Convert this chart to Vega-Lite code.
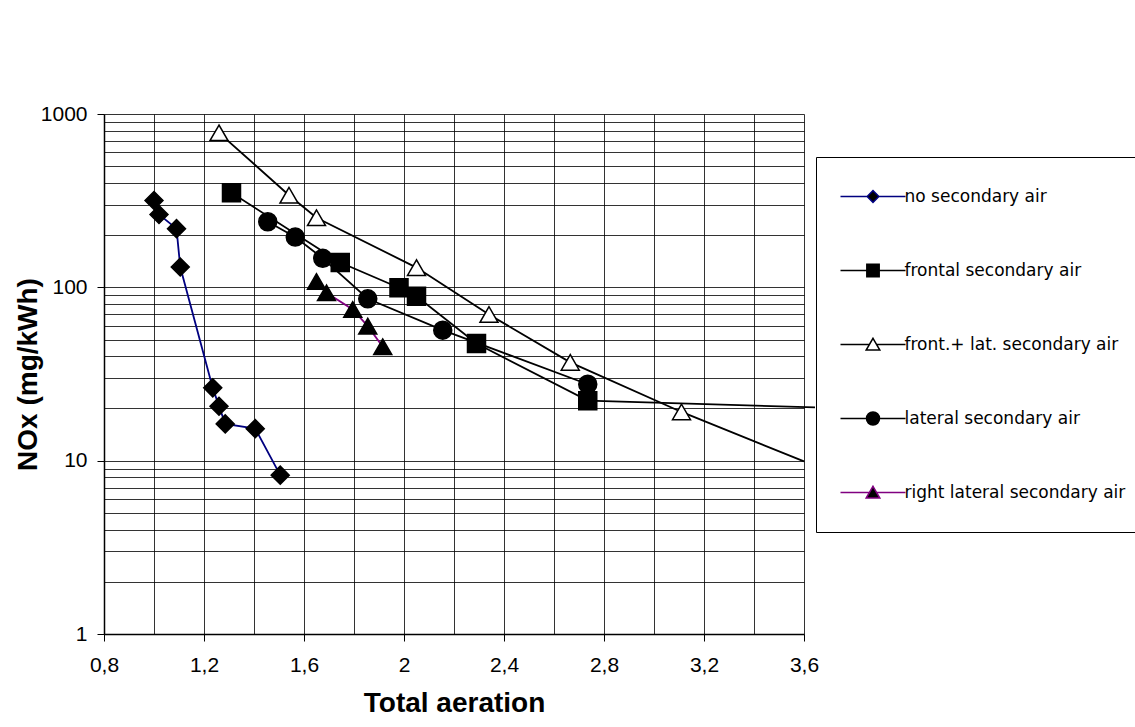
{
  "$schema": "https://vega.github.io/schema/vega-lite/v6.json",
  "width": 700,
  "height": 520,
  "autosize": {"type": "none"},
  "padding": {"left": 104, "top": 114, "right": 331, "bottom": 93},
  "background": "white",
  "config": {"view": {"stroke": null}, "font": "DejaVu Sans"},
  "data": {
    "values": [
      {"series": "no secondary air", "aeration": 1.0, "nox": 317},
      {"series": "no secondary air", "aeration": 1.02, "nox": 263},
      {"series": "no secondary air", "aeration": 1.09, "nox": 218},
      {"series": "no secondary air", "aeration": 1.105, "nox": 131},
      {"series": "no secondary air", "aeration": 1.235, "nox": 26.3},
      {"series": "no secondary air", "aeration": 1.26, "nox": 20.6},
      {"series": "no secondary air", "aeration": 1.285, "nox": 16.3},
      {"series": "no secondary air", "aeration": 1.405, "nox": 15.3},
      {"series": "no secondary air", "aeration": 1.505, "nox": 8.25},
      {"series": "frontal secondary air", "aeration": 1.31, "nox": 351},
      {"series": "frontal secondary air", "aeration": 1.745, "nox": 139},
      {"series": "frontal secondary air", "aeration": 1.98, "nox": 99.4},
      {"series": "frontal secondary air", "aeration": 2.05, "nox": 88.9},
      {"series": "frontal secondary air", "aeration": 2.29, "nox": 47.4},
      {"series": "frontal secondary air", "aeration": 2.735, "nox": 22.2},
      {"series": "frontal secondary air", "aeration": 3.644, "nox": 20.3},
      {"series": "front.+ lat. secondary air", "aeration": 1.26, "nox": 779},
      {"series": "front.+ lat. secondary air", "aeration": 1.54, "nox": 340},
      {"series": "front.+ lat. secondary air", "aeration": 1.65, "nox": 252},
      {"series": "front.+ lat. secondary air", "aeration": 2.05, "nox": 130},
      {"series": "front.+ lat. secondary air", "aeration": 2.34, "nox": 69.7},
      {"series": "front.+ lat. secondary air", "aeration": 2.665, "nox": 36.9},
      {"series": "front.+ lat. secondary air", "aeration": 3.11, "nox": 19.1},
      {"series": "front.+ lat. secondary air", "aeration": 3.6, "nox": 9.9},
      {"series": "lateral secondary air", "aeration": 1.455, "nox": 239},
      {"series": "lateral secondary air", "aeration": 1.565, "nox": 195},
      {"series": "lateral secondary air", "aeration": 1.675, "nox": 147},
      {"series": "lateral secondary air", "aeration": 1.855, "nox": 85.9},
      {"series": "lateral secondary air", "aeration": 2.155, "nox": 56.6},
      {"series": "lateral secondary air", "aeration": 2.735, "nox": 27.6},
      {"series": "right lateral  secondary air", "aeration": 1.65, "nox": 108},
      {"series": "right lateral  secondary air", "aeration": 1.69, "nox": 93},
      {"series": "right lateral  secondary air", "aeration": 1.795, "nox": 74.5},
      {"series": "right lateral  secondary air", "aeration": 1.855, "nox": 59.7},
      {"series": "right lateral  secondary air", "aeration": 1.915, "nox": 45.4}
    ]
  },
  "layer": [
    {
      "mark": {"type": "line", "strokeWidth": 1.8},
      "encoding": {
        "x": {
          "field": "aeration", "type": "quantitative",
          "scale": {"domain": [0.8, 3.6], "nice": false, "zero": false},
          "axis": {
            "values": [0.8, 1, 1.2, 1.4, 1.6, 1.8, 2, 2.2, 2.4, 2.6, 2.8, 3, 3.2, 3.4, 3.6],
            "labelExpr": "round(datum.value*10) % 4 == 0 ? replace(format(datum.value, '~g'), '.', ',') : ''",
            "title": "Total aeration",
            "titleFont": "Liberation Sans", "titleFontSize": 28, "titleFontWeight": "bold", "titleColor": "black",
            "labelFont": "Liberation Sans", "labelFontSize": 21, "labelColor": "black",
            "labelFlush": false, "labelOverlap": false, "labelPadding": 13.5,
            "tickSize": 7, "tickColor": "black", "tickWidth": 1,
            "tickOpacity": {"condition": {"test": "round(datum.value*10) % 4 == 0", "value": 1}, "value": 0},
            "domainColor": "black", "domainWidth": 1.5,
            "grid": true, "gridColor": "black", "gridOpacity": 0.8, "gridWidth": 1,
            "titlePadding": 14
          }
        },
        "y": {
          "field": "nox", "type": "quantitative",
          "scale": {"type": "log", "domain": [1, 1000], "nice": false},
          "axis": {
            "values": [1, 2, 3, 4, 5, 6, 7, 8, 9, 10, 20, 30, 40, 50, 60, 70, 80, 90, 100, 200, 300, 400, 500, 600, 700, 800, 900, 1000],
            "labelExpr": "(datum.value == 1 || datum.value == 10 || datum.value == 100 || datum.value == 1000) ? format(datum.value, 'd') : ''",
            "title": "NOx (mg/kWh)",
            "titleFont": "Liberation Sans", "titleFontSize": 28, "titleFontWeight": "bold", "titleColor": "black",
            "labelFont": "Liberation Sans", "labelFontSize": 21, "labelColor": "black",
            "labelFlush": false, "labelOverlap": false, "labelPadding": 10,
            "tickSize": 7, "tickColor": "black", "tickWidth": 1,
            "tickOpacity": {"condition": {"test": "datum.value == 1 || datum.value == 10 || datum.value == 100 || datum.value == 1000", "value": 1}, "value": 0},
            "domainColor": "black", "domainWidth": 1.5,
            "grid": true, "gridColor": "black", "gridOpacity": 0.8, "gridWidth": 1,
            "titlePadding": -2
          }
        },
        "color": {
          "field": "series", "type": "nominal",
          "scale": {
            "domain": ["no secondary air", "frontal secondary air", "front.+ lat. secondary air", "lateral secondary air", "right lateral  secondary air"],
            "range": ["#000080", "#000000", "#000000", "#000000", "#800080"]
          },
          "legend": {
            "orient": "none", "legendX": 712, "legendY": 43,
            "title": null, "padding": 6,
            "strokeColor": "black", "fillColor": "white",
            "symbolSize": 4225, "symbolStrokeWidth": 1.5, "symbolOffset": 17.5,
            "clipHeight": 67,
            "labelOffset": -2, "rowPadding": 7,
            "labelFont": "DejaVu Sans", "labelFontSize": 17, "labelColor": "black", "labelLimit": 400,
            "encode": {
              "symbols": {
                "update": {
                  "shape": [
                    {"test": "datum.value === 'no secondary air'", "value": "M-1,0H-0.18M-0.18,0L0,-0.18L0.18,0L0,0.18ZM0.18,0H1"},
                    {"test": "datum.value === 'frontal secondary air'", "value": "M-1,0H-0.19M-0.19,-0.19H0.19V0.19H-0.19ZM0.19,0H1"},
                    {"test": "datum.value === 'lateral secondary air'", "value": "M-1,0H-0.2M-0.2,0A0.2,0.2,0,1,1,0.2,0A0.2,0.2,0,1,1,-0.2,0ZM0.2,0H1"},
                    {"value": "M-1,0H-0.11M0,-0.19L0.21,0.17H-0.21ZM0.11,0H1"}
                  ],
                  "fill": [
                    {"test": "datum.value === 'front.+ lat. secondary air'", "value": "white"},
                    {"value": "black"}
                  ],
                  "stroke": {"scale": "color", "field": "value"},
                  "size": {"value": 4225},
                  "strokeWidth": {"value": 1.5},
                  "opacity": {"value": 1}
                }
              }
            }
          }
        }
      }
    },
    {
      "transform": [{"filter": "datum.aeration <= 3.5"}],
      "mark": {"type": "point", "filled": true, "size": 324, "stroke": "black", "strokeWidth": 1.5, "opacity": 1},
      "encoding": {
        "x": {"field": "aeration", "type": "quantitative"},
        "y": {"field": "nox", "type": "quantitative"},
        "shape": {
          "field": "series", "type": "nominal",
          "scale": {
            "domain": ["frontal secondary air", "no secondary air", "front.+ lat. secondary air", "lateral secondary air", "right lateral  secondary air"],
            "range": ["square", "diamond", "triangle-up", "circle", "triangle-up"]
          },
          "legend": null
        },
        "fill": {
          "field": "series", "type": "nominal",
          "scale": {
            "domain": ["front.+ lat. secondary air", "no secondary air", "frontal secondary air", "lateral secondary air", "right lateral  secondary air"],
            "range": ["white", "black", "black", "black", "black"]
          },
          "legend": null
        }
      }
    }
  ]
}
